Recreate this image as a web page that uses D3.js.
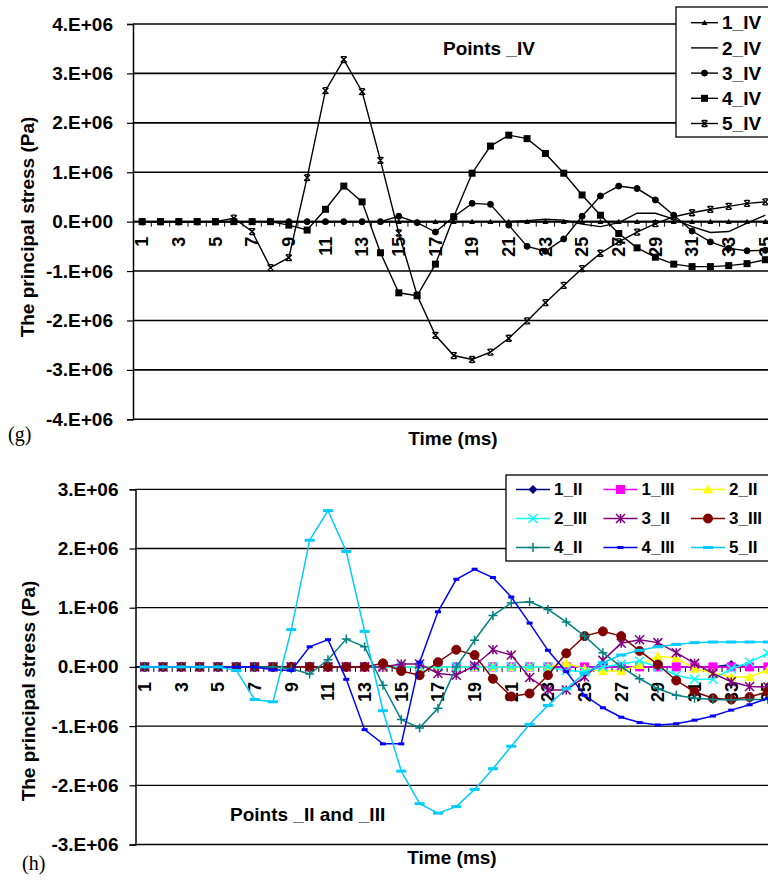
<!DOCTYPE html>
<html>
<head>
<meta charset="utf-8">
<script src="https://cdn.jsdelivr.net/npm/d3@7"></script>
<style>
  body { margin: 0; background: #fff; }
  text { font-family: Arial, "Liberation Sans", sans-serif; font-weight: bold; fill: #000; }
</style>
</head>
<body>
<div class="graph"></div>
<script>
// time steps (ms) along the category axis
var times = [1,2,3,4,5,6,7,8,9,10,11,12,13,14,15,16,17,18,19,20,21,22,23,24,25,26,27,28,29,30,31,32,33,34,35];

// values are in units of 1.E+06 Pa
// (g) points _IV
var s1_IV = [0,0,0,0,0,0,0,0,0,0,0,0,0,0,0,0,0,0,0,0,0,0,0,0,0,0,0,0,0,0,0,0,0,0,0];
var s2_IV = [0,0,0,0,0,0,0,0,0,0,0,0,0,0,0,0,0,0,0,0,0,0.02,0.05,0.03,-0.05,-0.1,-0.02,0.17,0.17,0.05,-0.1,-0.22,-0.2,-0.03,0.13];
var s3_IV = [0,0,0,0,0,0,0,0,0,0,0,0,0,0,0.11,-0.02,-0.21,0.1,0.37,0.35,-0.07,-0.5,-0.6,-0.35,0.11,0.52,0.72,0.67,0.44,0.13,-0.19,-0.41,-0.54,-0.59,-0.58];
var s4_IV = [0,0,0,0,0,0,0,0,-0.07,-0.17,0.25,0.72,0.4,-0.63,-1.44,-1.5,-0.86,0.1,0.98,1.53,1.75,1.68,1.38,0.98,0.54,0.13,-0.24,-0.53,-0.72,-0.86,-0.91,-0.91,-0.89,-0.85,-0.77];
var s5_IV = [0,0,0,0,0,0.07,-0.2,-0.93,-0.73,0.89,2.65,3.28,2.63,1.24,-0.23,-1.49,-2.3,-2.71,-2.79,-2.64,-2.36,-2.01,-1.64,-1.29,-0.95,-0.64,-0.41,-0.21,-0.04,0.1,0.18,0.25,0.31,0.37,0.4];

// (h) points _II and _III
var s1_II  = [0,0,0,0,0,0,0,0,0,0,0,0,0,0,0,0,0,0,0,0,0,0,0,0,0,0,0,0,0,0,0,0,0.04,0,0];
var s1_III = [0,0,0,0,0,0,0,0,0,0,0,0,0,0,0,0,0,0,0,0,0,0,0,0,0,0,0,0,0,0,0,0,0,0,0];
var s2_II  = [0,0,0,0,0,0,0,0,0,0,0,0,0,0,0,0,0,0,0,0,0,0,0,0.06,-0.03,-0.07,-0.07,0.03,0.18,0.15,-0.03,-0.1,-0.17,-0.17,-0.05];
var s2_III = [0,0,0,0,0,0,0,0,0,0,0,0,0,0,0,0,0,0,0,0,0,0,0,-0.06,-0.08,0,0.05,0.1,0,-0.14,-0.21,-0.21,-0.03,0.08,0.23];
var s3_II  = [0,0,0,0,0,0,0,0,0,0,0,0,0,0,0.05,0.05,-0.11,-0.14,0.02,0.29,0.2,-0.18,-0.39,-0.39,-0.17,0.11,0.4,0.46,0.41,0.24,0.06,-0.11,-0.25,-0.33,-0.34];
var s3_III = [0,0,0,0,0,0,0,0,0,0,0,0,0,0.06,-0.07,-0.14,0.08,0.29,0.2,-0.2,-0.5,-0.45,-0.14,0.23,0.52,0.6,0.52,0.27,0.04,-0.23,-0.42,-0.53,-0.55,-0.51,-0.42];
var s4_II  = [0,0,0,0,0,0,0,0,-0.03,-0.12,0.12,0.47,0.34,-0.31,-0.89,-1.03,-0.7,0,0.45,0.87,1.08,1.1,0.97,0.76,0.52,0.24,0,-0.2,-0.37,-0.48,-0.53,-0.55,-0.56,-0.55,-0.55];
var s4_III = [0,0,0,0,0,0,0,-0.05,-0.06,0.34,0.46,-0.21,-1.06,-1.3,-1.3,0.08,0.93,1.48,1.65,1.51,1.18,0.74,0.28,-0.08,-0.48,-0.69,-0.85,-0.94,-0.98,-0.96,-0.9,-0.83,-0.73,-0.64,-0.53];
var s5_II  = [0,0,0,0,0,-0.06,-0.55,-0.59,0.63,2.14,2.64,1.95,0.6,-0.74,-1.76,-2.31,-2.47,-2.36,-2.07,-1.72,-1.34,-0.97,-0.65,-0.37,-0.11,0.07,0.2,0.28,0.34,0.38,0.41,0.42,0.42,0.42,0.42];

var ticksG = [-4,-3,-2,-1,0,1,2,3,4];
var ticksH = [-3,-2,-1,0,1,2,3];

var seriesG = [
  {name: '1_IV', values: s1_IV, color: '#000', marker: 'triangle', size: 6},
  {name: '2_IV', values: s2_IV, color: '#000', marker: 'none', size: 0},
  {name: '3_IV', values: s3_IV, color: '#000', marker: 'circle', size: 6},
  {name: '4_IV', values: s4_IV, color: '#000', marker: 'square', size: 7},
  {name: '5_IV', values: s5_IV, color: '#000', marker: 'xbar', size: 6}
];
var seriesH = [
  {name: '1_II',  values: s1_II,  color: '#000080', marker: 'diamond', size: 9},
  {name: '1_III', values: s1_III, color: '#FF00FF', marker: 'square', size: 9},
  {name: '2_II',  values: s2_II,  color: '#FFFF00', marker: 'triangle', size: 10},
  {name: '2_III', values: s2_III, color: '#00FFFF', marker: 'x', size: 9},
  {name: '3_II',  values: s3_II,  color: '#800080', marker: 'star', size: 9},
  {name: '3_III', values: s3_III, color: '#800000', marker: 'circle', size: 9},
  {name: '4_II',  values: s4_II,  color: '#008080', marker: 'plus', size: 9},
  {name: '4_III', values: s4_III, color: '#0000FF', marker: 'dash', size: 6},
  {name: '5_II',  values: s5_II,  color: '#00CCFF', marker: 'dash', size: 10}
];

var W = 768, H = 881;
var svg = d3.select('.graph').append('svg')
    .attr('width', W)
    .attr('height', H)
    .style('display', 'block');

function fmt(v) {
  return v === 0 ? '0.E+00' : v + '.E+06';
}

function marker(g, type, color, size) {
  var h = size / 2;
  if (type === 'none') return;
  if (type === 'circle') {
    g.append('circle').attr('r', h).attr('fill', color).attr('stroke', color);
  } else if (type === 'square') {
    g.append('rect').attr('x', -h).attr('y', -h).attr('width', size).attr('height', size).attr('fill', color);
  } else if (type === 'diamond') {
    g.append('path').attr('d', 'M0,' + (-h) + 'L' + h + ',0L0,' + h + 'L' + (-h) + ',0Z').attr('fill', color);
  } else if (type === 'triangle') {
    g.append('path').attr('d', 'M0,' + (-h) + 'L' + h + ',' + h * 0.8 + 'L' + (-h) + ',' + h * 0.8 + 'Z').attr('fill', color);
  } else if (type === 'x') {
    g.append('path').attr('d', 'M' + (-h) + ',' + (-h) + 'L' + h + ',' + h + 'M' + (-h) + ',' + h + 'L' + h + ',' + (-h))
      .attr('stroke', color).attr('stroke-width', 1.5).attr('fill', 'none');
  } else if (type === 'star') {
    g.append('path').attr('d', 'M' + (-h) + ',' + (-h) + 'L' + h + ',' + h + 'M' + (-h) + ',' + h + 'L' + h + ',' + (-h) + 'M0,' + (-h) + 'V' + h)
      .attr('stroke', color).attr('stroke-width', 1.5).attr('fill', 'none');
  } else if (type === 'xbar') {
    g.append('path').attr('d', 'M' + (-h) + ',' + (-h) + 'L' + h + ',' + h + 'M' + (-h) + ',' + h + 'L' + h + ',' + (-h) +
        'M' + (-h * 0.7) + ',' + (-h) + 'H' + (h * 0.7) + 'M' + (-h * 0.7) + ',' + h + 'H' + (h * 0.7))
      .attr('stroke', color).attr('stroke-width', 1.3).attr('fill', 'none');
  } else if (type === 'plus') {
    g.append('path').attr('d', 'M' + (-h) + ',0H' + h + 'M0,' + (-h) + 'V' + h)
      .attr('stroke', color).attr('stroke-width', 1.5).attr('fill', 'none');
  } else if (type === 'dash') {
    g.append('rect').attr('x', -h).attr('y', -1.5).attr('width', size).attr('height', 3).attr('fill', color);
  }
}

function drawChart(c) {
  var x = d3.scaleBand().domain(times).range([c.left, c.left + times.length * 18.33]);
  var y = d3.scaleLinear().domain([c.ticks[0], c.ticks[c.ticks.length - 1]]).range([c.bottom, c.top]);
  var cx = function(t) { return x(t) + x.bandwidth() / 2; };

  var g = svg.append('g');

  // horizontal gridlines
  g.selectAll('.grid')
    .data(c.ticks)
    .enter().append('line')
    .attr('class', 'grid')
    .attr('x1', c.left).attr('x2', W + 10)
    .attr('y1', function(d) { return y(d); })
    .attr('y2', function(d) { return y(d); })
    .attr('stroke', '#000')
    .attr('stroke-width', c.gridW);

  // y axis
  var yAxis = d3.axisLeft(y).tickValues(c.ticks).tickFormat(fmt).tickSize(6).tickPadding(c.pad);
  var ya = g.append('g')
    .attr('transform', 'translate(' + c.left + ',0)')
    .call(yAxis);
  ya.select('.domain').attr('stroke', '#000').attr('stroke-width', 1.5);
  ya.selectAll('.tick line').attr('stroke', '#000').attr('stroke-width', 1.2);
  ya.selectAll('.tick text').style('font-size', '19px').attr('fill', '#000');

  // category axis along the zero line
  var y0 = y(0);
  var xa = g.append('g');
  xa.append('line')
    .attr('x1', c.left).attr('x2', W + 10)
    .attr('y1', y0).attr('y2', y0)
    .attr('stroke', '#000').attr('stroke-width', 1.8);
  xa.selectAll('.xtick')
    .data(times)
    .enter().append('line')
    .attr('class', 'xtick')
    .attr('x1', function(d) { return x(d) + x.bandwidth(); })
    .attr('x2', function(d) { return x(d) + x.bandwidth(); })
    .attr('y1', y0).attr('y2', y0 + 5)
    .attr('stroke', '#000').attr('stroke-width', 1);
  xa.selectAll('.xlabel')
    .data(times.filter(function(d, i) { return i % 2 === 0; }))
    .enter().append('text')
    .attr('class', 'xlabel')
    .attr('transform', function(d) { return 'translate(' + cx(d) + ',' + (y0 + 15) + ') rotate(-90)'; })
    .attr('dy', '0.35em')
    .attr('text-anchor', 'end')
    .style('font-size', '18px')
    .text(function(d) { return d; });

  // series
  var line = d3.line()
    .x(function(d, i) { return cx(times[i]); })
    .y(function(d) { return y(d); });

  c.series.forEach(function(s) {
    var sg = g.append('g').attr('class', 'series');
    sg.append('path')
      .datum(s.values)
      .attr('d', line)
      .attr('fill', 'none')
      .attr('stroke', s.color)
      .attr('stroke-width', c.lineW);
    sg.selectAll('.mk')
      .data(s.values)
      .enter().append('g')
      .attr('class', 'mk')
      .attr('transform', function(d, i) { return 'translate(' + cx(times[i]) + ',' + y(d) + ')'; })
      .each(function() { marker(d3.select(this), s.marker, s.color, s.size); });
  });

  // axis titles
  g.append('text')
    .attr('transform', 'translate(' + c.yTitle[0] + ',' + c.yTitle[1] + ') rotate(-90)')
    .attr('text-anchor', 'middle')
    .style('font-size', '19px')
    .text('The principal stress  (Pa)');
  g.append('text')
    .attr('x', c.xTitle[0]).attr('y', c.xTitle[1])
    .attr('text-anchor', 'middle')
    .style('font-size', '19px')
    .text('Time (ms)');
  g.append('text')
    .attr('x', c.panel[0]).attr('y', c.panel[1])
    .style('font-family', '"Liberation Serif", "Times New Roman", serif')
    .style('font-weight', 'normal')
    .style('font-size', '20px')
    .text(c.panelLabel);
  g.append('text')
    .attr('x', c.note[0]).attr('y', c.note[1])
    .style('font-size', '19px')
    .text(c.noteText);

  // legend
  var lg = g.append('g');
  lg.append('rect')
    .attr('x', c.legend.x).attr('y', c.legend.y)
    .attr('width', c.legend.w).attr('height', c.legend.h)
    .attr('fill', '#fff').attr('stroke', '#000').attr('stroke-width', 1.3);
  c.series.forEach(function(s, i) {
    var col = i % c.legend.cols, row = Math.floor(i / c.legend.cols);
    var lx = c.legend.x + c.legend.padX + col * c.legend.colW;
    var ly = c.legend.y + c.legend.padY + row * c.legend.rowH;
    var e = lg.append('g').attr('transform', 'translate(' + lx + ',' + ly + ')');
    e.append('line').attr('x1', 0).attr('x2', c.legend.lineW).attr('y1', 0).attr('y2', 0)
      .attr('stroke', s.color).attr('stroke-width', c.lineW);
    marker(e.append('g').attr('transform', 'translate(' + c.legend.lineW / 2 + ',0)'), s.marker, s.color, s.size);
    e.append('text')
      .attr('x', c.legend.lineW + 4)
      .attr('dy', '0.35em')
      .style('font-size', c.legend.font)
      .text(s.name);
  });
}

drawChart({
  left: 133, top: 24, bottom: 419.3, ticks: ticksG, pad: 14,
  series: seriesG, gridW: 1.6, lineW: 1.4,
  yTitle: [34, 227], xTitle: [453, 445], panel: [8, 441], panelLabel: '(g)',
  note: [443, 55], noteText: 'Points _IV',
  legend: {x: 676, y: 7, w: 110, h: 130, cols: 1, colW: 0, rowH: 25.2, padX: 15, padY: 15.7, lineW: 27, font: '19px'}
});

drawChart({
  left: 135.5, top: 489.3, bottom: 844.5, ticks: ticksH, pad: 11,
  series: seriesH, gridW: 1.3, lineW: 1.5,
  yTitle: [35, 691], xTitle: [452, 864], panel: [22, 870], panelLabel: '(h)',
  note: [230, 821], noteText: 'Points _II and _III',
  legend: {x: 506, y: 475, w: 280, h: 86, cols: 3, colW: 87.5, rowH: 29, padX: 10, padY: 14.5, lineW: 34, font: '17px'}
});
</script>
</body>
</html>
